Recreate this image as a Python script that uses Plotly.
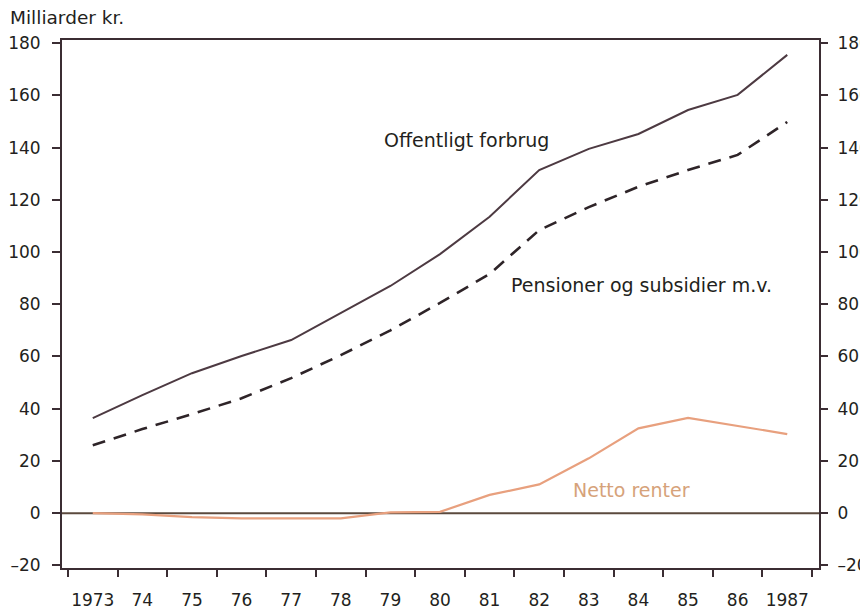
import plotly.graph_objects as go

years = list(range(1973, 1988))
year_labels = ["1973", "74", "75", "76", "77", "78", "79", "80", "81", "82", "83", "84", "85", "86", "1987"]

offentligt_forbrug = [36.4, 45.2, 53.6, 60.2, 66.3, 76.6, 87.0, 99.2, 113.5, 131.4, 139.5, 145.2, 154.4, 160.2, 175.5]
pensioner_subsidier = [26.0, 32.2, 37.9, 44.0, 51.7, 60.5, 70.0, 80.5, 91.6, 108.4, 117.2, 125.0, 131.4, 137.2, 149.8]
netto_renter = [0.0, -0.5, -1.5, -2.0, -2.0, -2.0, 0.3, 0.5, 7.0, 11.0, 21.0, 32.5, 36.5, 33.5, 30.3]

y_ticks = [-20, 0, 20, 40, 60, 80, 100, 120, 140, 160, 180]
y_tick_labels = ["\u201320", "0", "20", "40", "60", "80", "100", "120", "140", "160", "180"]

xr = [1972.38, 1987.64]
yr = [-21.0, 181.2]
axis_col = "#3b2d33"
fam = "DejaVu Sans, Arial, sans-serif"
font = dict(family=fam, size=17, color="#231f20")
afont = dict(family=fam, size=19, color="#231f20")

fig = go.Figure()

fig.add_trace(go.Scatter(x=xr, y=[0, 0], mode="lines",
                         line=dict(color="#5b4a3e", width=2), hoverinfo="skip", showlegend=False))
fig.add_trace(go.Scatter(x=years, y=netto_renter, mode="lines",
                         line=dict(color="#e8a07e", width=2.2), name="Netto renter", showlegend=False))
fig.add_trace(go.Scatter(x=years, y=pensioner_subsidier, mode="lines",
                         line=dict(color="#2e2428", width=2.6, dash="13px,9px"),
                         name="Pensioner og subsidier m.v.", showlegend=False))
fig.add_trace(go.Scatter(x=years, y=offentligt_forbrug, mode="lines",
                         line=dict(color="#4d3a42", width=2),
                         name="Offentligt forbrug", showlegend=False))
fig.add_trace(go.Scatter(x=[years[0]], y=[0], yaxis="y2", mode="markers",
                         marker=dict(opacity=0), hoverinfo="skip", showlegend=False))

# page body adds an 8px offset; figure is sized so the plot lands at page px 62..819 x 40..568
W, H = 860, 605
ML, MT = 54, 32
PW, PH = 757, 528

fig.update_layout(
    width=W, height=H,
    margin=dict(l=ML, r=W - ML - PW, t=MT, b=H - MT - PH, pad=0),
    paper_bgcolor="white", plot_bgcolor="white",
    font=font,
    xaxis=dict(range=xr, tickmode="array", tickvals=years, ticktext=year_labels,
               ticks="outside", ticklen=16, tickcolor="rgba(0,0,0,0)",
               showgrid=False, zeroline=False, automargin=False,
               showline=True, linecolor=axis_col, linewidth=2, mirror=True,
               minor=dict(tick0=1972.5, dtick=1, ticks="outside", ticklen=7,
                          tickcolor=axis_col, tickwidth=1.5, showgrid=False),
               tickfont=font),
    yaxis=dict(range=yr, tickmode="array", tickvals=y_ticks, ticktext=y_tick_labels,
               ticks="outside", ticklen=8, tickcolor=axis_col, tickwidth=1.5,
               ticklabelstandoff=8, automargin=False,
               showgrid=False, zeroline=False,
               showline=True, linecolor=axis_col, linewidth=2, mirror=True,
               tickfont=font),
    yaxis2=dict(range=yr, overlaying="y", side="right", tickmode="array", tickvals=y_ticks,
                ticktext=y_tick_labels, automargin=False,
                ticks="outside", ticklen=8, tickcolor=axis_col, tickwidth=1.5,
                ticklabelstandoff=6,
                showgrid=False, zeroline=False, showline=False,
                tickfont=font),
    annotations=[
        dict(text="Milliarder kr.", xref="paper", yref="paper",
             x=(0 - ML) / PW, y=(MT + PH - 10) / PH, xanchor="left", yanchor="middle",
             showarrow=False, font=dict(family=fam, size=18.5, color="#231f20")),
        dict(text="Offentligt forbrug", x=1980.53, y=142.9, xanchor="center", yanchor="middle",
             showarrow=False, font=afont),
        dict(text="Pensioner og subsidier m.v.", x=1984.07, y=87.4, xanchor="center", yanchor="middle",
             showarrow=False, font=afont),
        dict(text="Netto renter", x=1983.87, y=8.8, xanchor="center", yanchor="middle",
             showarrow=False, font=dict(family=fam, size=19, color="#d6a27a")),
    ],
)

fig.write_html("out.html")
